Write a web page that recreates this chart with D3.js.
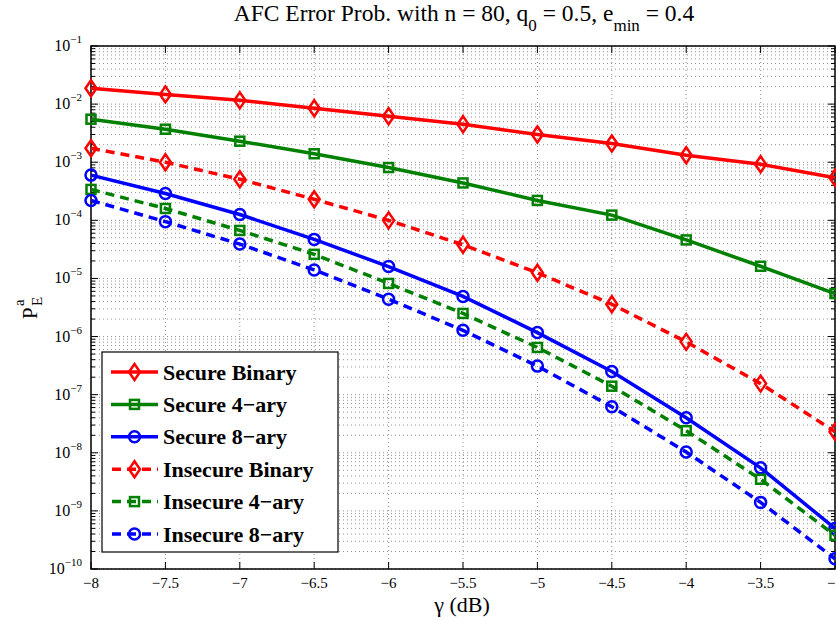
<!DOCTYPE html>
<html>
<head>
<meta charset="utf-8">
<script src="https://cdn.jsdelivr.net/npm/d3@7"></script>
<style>
  body { margin: 0; background: #fff; }
  svg { font-family: "Liberation Serif", "Times New Roman", serif; }
</style>
</head>
<body>
<div id="vis"></div>
<script>
const FRAME_WIDTH = 836;
const FRAME_HEIGHT = 620;
const MARGINS = {left: 91, right: 1, top: 46, bottom: 51};

// data
const gammaDb = [-8, -7.5, -7, -6.5, -6, -5.5, -5, -4.5, -4, -3.5, -3];
const secureBinary   = [1.87e-2, 1.47e-2, 1.16e-2, 8.5e-3, 6.2e-3, 4.5e-3, 3.0e-3, 2.1e-3, 1.32e-3, 9.2e-4, 5.4e-4];
const secure4ary     = [5.5e-3, 3.7e-3, 2.3e-3, 1.4e-3, 8.1e-4, 4.4e-4, 2.2e-4, 1.23e-4, 4.6e-5, 1.62e-5, 5.5e-6];
const secure8ary     = [6.0e-4, 2.9e-4, 1.26e-4, 4.7e-5, 1.6e-5, 4.9e-6, 1.17e-6, 2.5e-7, 4.0e-8, 5.5e-9, 5.0e-10];
const insecureBinary = [1.74e-3, 1.0e-3, 5.1e-4, 2.3e-4, 1.0e-4, 3.8e-5, 1.25e-5, 3.6e-6, 8.1e-7, 1.55e-7, 2.3e-8];
const insecure4ary   = [3.4e-4, 1.6e-4, 6.7e-5, 2.6e-5, 8.2e-6, 2.5e-6, 6.5e-7, 1.4e-7, 2.4e-8, 3.5e-9, 3.8e-10];
const insecure8ary   = [2.2e-4, 9.5e-5, 3.9e-5, 1.4e-5, 4.4e-6, 1.28e-6, 3.1e-7, 6.2e-8, 1.03e-8, 1.4e-9, 1.5e-10];
const xTicks = [-8, -7.5, -7, -6.5, -6, -5.5, -5, -4.5, -4, -3.5, -3];
const yExponents = [-10, -9, -8, -7, -6, -5, -4, -3, -2, -1];

const series = [
  {name: "Secure Binary",   values: secureBinary,   color: "#ff0000", dash: null, marker: "diamond"},
  {name: "Secure 4\u2212ary",   values: secure4ary,     color: "#008000", dash: null, marker: "square"},
  {name: "Secure 8\u2212ary",   values: secure8ary,     color: "#0000ff", dash: null, marker: "circle"},
  {name: "Insecure Binary", values: insecureBinary, color: "#ff0000", dash: "9,6", marker: "diamond"},
  {name: "Insecure 4\u2212ary", values: insecure4ary,   color: "#008000", dash: "9,6", marker: "square"},
  {name: "Insecure 8\u2212ary", values: insecure8ary,   color: "#0000ff", dash: "9,6", marker: "circle"}
];

const VIS_WIDTH = FRAME_WIDTH - MARGINS.left - MARGINS.right;
const VIS_HEIGHT = FRAME_HEIGHT - MARGINS.top - MARGINS.bottom;

const svg = d3.select("#vis")
  .append("svg")
    .attr("width", FRAME_WIDTH)
    .attr("height", FRAME_HEIGHT);

const FRAME = svg.append("g")
  .attr("transform", "translate(" + MARGINS.left + "," + MARGINS.top + ")");

const X_SCALE = d3.scaleLinear().domain([-8, -3]).range([0, VIS_WIDTH]);
const Y_SCALE = d3.scaleLog().domain([1e-10, 1e-1]).range([VIS_HEIGHT, 0]);

// minor y values (2..9 per decade)
const minorY = [];
for (let e = -10; e < -1; e++) {
  for (let m = 2; m <= 9; m++) minorY.push(m * Math.pow(10, e));
}
const majorY = yExponents.map(e => Math.pow(10, e));

// grid
const grid = FRAME.append("g").attr("stroke", "#000").attr("stroke-width", 0.7)
  .attr("stroke-dasharray", "1,3").attr("opacity", 0.6);
grid.selectAll(".gy").data(majorY.concat(minorY)).enter().append("line")
  .attr("x1", 0).attr("x2", VIS_WIDTH)
  .attr("y1", d => Y_SCALE(d)).attr("y2", d => Y_SCALE(d));
grid.selectAll(".gx").data(xTicks).enter().append("line")
  .attr("y1", 0).attr("y2", VIS_HEIGHT)
  .attr("x1", d => X_SCALE(d)).attr("x2", d => X_SCALE(d));

// ticks on all four sides, pointing inward
const ticks = FRAME.append("g").attr("stroke", "#000").attr("stroke-width", 1);
ticks.selectAll(".tb").data(xTicks).enter().append("line")
  .attr("x1", d => X_SCALE(d)).attr("x2", d => X_SCALE(d))
  .attr("y1", VIS_HEIGHT).attr("y2", VIS_HEIGHT - 7);
ticks.selectAll(".tt").data(xTicks).enter().append("line")
  .attr("x1", d => X_SCALE(d)).attr("x2", d => X_SCALE(d))
  .attr("y1", 0).attr("y2", 7);
ticks.selectAll(".tl").data(majorY).enter().append("line")
  .attr("x1", 0).attr("x2", 7)
  .attr("y1", d => Y_SCALE(d)).attr("y2", d => Y_SCALE(d));
ticks.selectAll(".tr").data(majorY).enter().append("line")
  .attr("x1", VIS_WIDTH).attr("x2", VIS_WIDTH - 7)
  .attr("y1", d => Y_SCALE(d)).attr("y2", d => Y_SCALE(d));
ticks.selectAll(".tlm").data(minorY).enter().append("line")
  .attr("x1", 0).attr("x2", 4)
  .attr("y1", d => Y_SCALE(d)).attr("y2", d => Y_SCALE(d));
ticks.selectAll(".trm").data(minorY).enter().append("line")
  .attr("x1", VIS_WIDTH).attr("x2", VIS_WIDTH - 4)
  .attr("y1", d => Y_SCALE(d)).attr("y2", d => Y_SCALE(d));

// box
FRAME.append("rect")
  .attr("width", VIS_WIDTH).attr("height", VIS_HEIGHT)
  .attr("fill", "none").attr("stroke", "#000").attr("stroke-width", 1.5);

// x tick labels
FRAME.selectAll(".xl").data(xTicks).enter().append("text")
  .attr("x", d => X_SCALE(d)).attr("y", VIS_HEIGHT + 19)
  .attr("text-anchor", "middle").attr("font-size", 15)
  .text(d => d3.format("")(d).replace("-", "\u2212"));

// y tick labels 10^e
const yl = FRAME.selectAll(".yl").data(yExponents).enter().append("text")
  .attr("x", -9).attr("y", d => Y_SCALE(Math.pow(10, d)) + 5)
  .attr("text-anchor", "end").attr("font-size", 16);
yl.append("tspan").text("10");
yl.append("tspan").attr("dy", -8).attr("font-size", 11)
  .text(d => String(d).replace("-", "\u2212"));

// lines and markers
const line = d3.line()
  .x((d, i) => X_SCALE(gammaDb[i]))
  .y(d => Y_SCALE(d));

function drawMarker(g, type, color) {
  if (type === "diamond") {
    g.append("path").attr("d", "M0,-8L5.5,0L0,8L-5.5,0Z")
      .attr("fill", "none").attr("stroke", color).attr("stroke-width", 2.5);
  } else if (type === "square") {
    g.append("rect").attr("x", -4.5).attr("y", -4.5).attr("width", 9).attr("height", 9)
      .attr("fill", "none").attr("stroke", color).attr("stroke-width", 2.5);
  } else {
    g.append("circle").attr("r", 5.5)
      .attr("fill", "none").attr("stroke", color).attr("stroke-width", 2.5);
  }
}

series.forEach(s => {
  FRAME.append("path")
    .datum(s.values)
    .attr("d", line)
    .attr("fill", "none")
    .attr("stroke", s.color)
    .attr("stroke-width", 3.5)
    .attr("stroke-dasharray", s.dash);
  s.values.forEach((v, i) => {
    const g = FRAME.append("g")
      .attr("transform", "translate(" + X_SCALE(gammaDb[i]) + "," + Y_SCALE(v) + ")");
    drawMarker(g, s.marker, s.color);
  });
});

// legend
const LEG = {x: 11, y: 306, w: 236, h: 200, row: 32.4};
const legend = FRAME.append("g").attr("transform", "translate(" + LEG.x + "," + LEG.y + ")");
legend.append("rect")
  .attr("width", LEG.w).attr("height", LEG.h)
  .attr("fill", "#fff").attr("stroke", "#000").attr("stroke-width", 1.2);
series.forEach((s, i) => {
  const cy = 20 + i * LEG.row;
  legend.append("line")
    .attr("x1", 9).attr("x2", 56).attr("y1", cy).attr("y2", cy)
    .attr("stroke", s.color).attr("stroke-width", 3.5)
    .attr("stroke-dasharray", s.dash ? "9,6" : null)
    .attr("stroke-dashoffset", s.dash ? -1 : null);
  const g = legend.append("g").attr("transform", "translate(32.5," + cy + ")");
  drawMarker(g, s.marker, s.color);
  legend.append("text")
    .attr("x", 61).attr("y", cy + 7.5)
    .attr("font-size", 22).attr("font-weight", "bold")
    .text(s.name);
});

// title
const title = svg.append("text")
  .attr("x", 464).attr("y", 21)
  .attr("text-anchor", "middle").attr("font-size", 23.5);
title.append("tspan").text("AFC Error Prob. with n = 80, q");
title.append("tspan").attr("dy", 10).attr("font-size", 17).text("0");
title.append("tspan").attr("dy", -10).text(" = 0.5, e");
title.append("tspan").attr("dy", 10).attr("font-size", 17).text("min");
title.append("tspan").attr("dy", -10).text(" = 0.4");

// x label
svg.append("text")
  .attr("x", 462).attr("y", 612)
  .attr("text-anchor", "middle").attr("font-size", 22)
  .text("\u03b3 (dB)");

// y label P_E^a
const ylab = svg.append("g").attr("transform", "translate(37,319) rotate(-90)");
ylab.append("text").attr("x", 0).attr("y", 0).attr("font-size", 21).text("P");
ylab.append("text").attr("x", 13).attr("y", -13).attr("font-size", 15).text("a");
ylab.append("text").attr("x", 13).attr("y", 5).attr("font-size", 15).text("E");
</script>
</body>
</html>
